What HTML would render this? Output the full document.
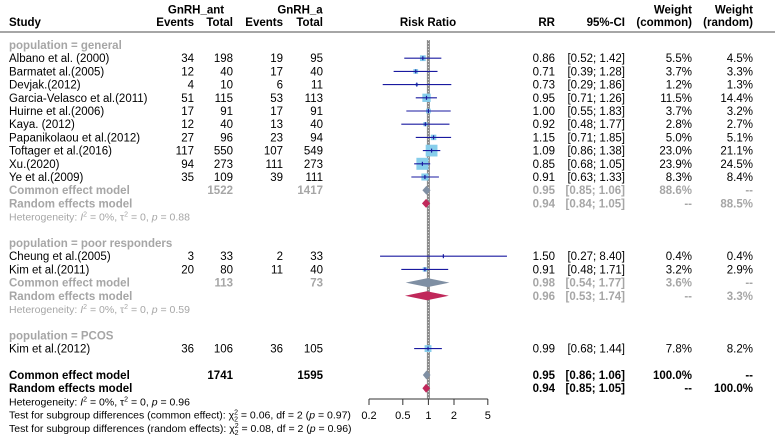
<!DOCTYPE html>
<html><head><meta charset="utf-8"><style>
body{margin:0;background:#fff}
svg{display:block;font-family:"Liberation Sans",Arial,sans-serif}
.b{font-weight:bold}
.g{fill:#a6a6a6}
</style></head><body>
<svg id="c" width="777" height="441" viewBox="0 0 777 441"></svg>
<script>
const studyNames=["Albano et al. (2000)","Barmatet al.(2005)","Devjak.(2012)","Garcia-Velasco et al.(2011)","Huirne et al.(2006)","Kaya. (2012)","Papanikolaou et al.(2012)","Toftager et al.(2016)","Xu.(2020)","Ye et al.(2009)","Cheung et al.(2005)","Kim et al.(2011)","Kim et al.(2012)"];
const studyRows=[1,2,3,4,5,6,7,8,9,10,16,17,23];
const evA=[34,12,4,51,17,12,27,117,94,35,3,20,36];
const totA=[198,40,10,115,91,40,96,550,273,109,33,80,106];
const evB=[19,17,6,53,17,13,23,107,111,39,2,11,36];
const totB=[95,40,11,113,91,40,94,549,273,111,33,40,105];
const rr=[0.86,0.71,0.73,0.95,1.00,0.92,1.15,1.09,0.85,0.91,1.50,0.91,0.99];
const lo=[0.52,0.39,0.29,0.71,0.55,0.48,0.71,0.86,0.68,0.63,0.27,0.48,0.68];
const hi=[1.42,1.28,1.86,1.26,1.83,1.77,1.85,1.38,1.05,1.33,8.40,1.71,1.44];
const wCom=[5.5,3.7,1.2,11.5,3.7,2.8,5.0,23.0,23.9,8.3,0.4,3.2,7.8];
const wRan=[4.5,3.3,1.3,14.4,3.2,2.7,5.1,21.1,24.5,8.4,0.4,2.9,8.2];
const sumRows=[11,12,18,19,25,26];
const sumKind=["common","random","common","random","common","random"];
const sumEst=[0.95,0.94,0.98,0.96,0.95,0.94];
const sumLo=[0.85,0.84,0.54,0.53,0.86,0.85];
const sumHi=[1.06,1.05,1.77,1.74,1.06,1.05];
const sumTotA=["1522","","113","","1741",""];
const sumTotB=["1417","","73","","1595",""];
const sumWC=["88.6%","--","3.6%","--","100.0%","--"];
const sumWR=["--","88.5%","--","3.3%","--","100.0%"];
const ticks=[0.2,0.5,1,2,5];
const tickLabels=["0.2","0.5","1","2","5"];

const svg=document.getElementById('c');
const NS="http://www.w3.org/2000/svg";
const X=v=>428.4+85*Math.log10(v);
const Y=r=>45+r*13.2;
function el(tag,attrs,txt){const e=document.createElementNS(NS,tag);for(const k in attrs)e.setAttribute(k,attrs[k]);if(txt!==undefined)e.textContent=txt;svg.appendChild(e);return e;}
function T(x,y,s,anchor,cls,size){const e=el('text',{x:x,y:y,'text-anchor':anchor||'start','font-size':size||11.5,class:cls||''},s);return e;}
const f2=v=>v.toFixed(2);

let h;
h=T(196,13.5,"GnRH_ant","middle","b");
h=T(300,13.5,"GnRH_a","middle","b");
h=T(9,26,"Study","start","b");
[["Events",194],["Total",233],["Events",283],["Total",323]].forEach(a=>{h=T(a[1],26,a[0],"end","b");});
h=T(428,26,"Risk Ratio","middle","b");
h=T(555,26,"RR","end","b");
h=T(625,26,"95%-CI","end","b");
h=T(692,13.5,"Weight","end","b");
T(692,26,"(common)","end","b");
h=T(753,13.5,"Weight","end","b");
T(753,26,"(random)","end","b");
h=el('line',{x1:0,y1:32,x2:775,y2:32,stroke:'#888','stroke-width':1.5});

h=el('line',{x1:X(1),y1:40,x2:X(1),y2:Y(27)-3,stroke:'#8a8a8a','stroke-width':3});

el('line',{x1:X(1),y1:40,x2:X(1),y2:Y(27)-3,stroke:'#e0e0e0','stroke-width':1,'stroke-dasharray':'1 2'});

[[0,"population = general"],[15,"population = poor responders"],[22,"population = PCOS"]].forEach(a=>{
  h=T(9,Y(a[0])+4,a[1],"start","b g");
});

studyNames.forEach((n,i)=>{
  const y=Y(studyRows[i]);
  h=T(9,y+4,n);
  T(194,y+4,String(evA[i]),"end");T(233,y+4,String(totA[i]),"end");
  T(283,y+4,String(evB[i]),"end");T(323,y+4,String(totB[i]),"end");
  T(555,y+4,f2(rr[i]),"end");
  T(625,y+4,"["+f2(lo[i])+"; "+f2(hi[i])+"]","end");
  T(692,y+4,wCom[i].toFixed(1)+"%","end");T(753,y+4,wRan[i].toFixed(1)+"%","end");
  const s=12*Math.sqrt(wCom[i]/23.9);
  h=el('rect',{x:X(rr[i])-s/2,y:y-s/2,width:s,height:s,fill:'#87ceeb'});
  
  h=el('line',{x1:X(lo[i]),y1:y,x2:X(hi[i]),y2:y,stroke:'#1a1aa0','stroke-width':1.1});
  
  el('line',{x1:X(rr[i]),y1:y-2,x2:X(rr[i]),y2:y+2,stroke:'#1a1aa0','stroke-width':1.2});
});

sumRows.forEach((r,i)=>{
  const y=Y(r);const overall=r>=25;const cls=overall?"b":"b g";
  T(9,y+4,sumKind[i]==="common"?"Common effect model":"Random effects model","start",cls);
  if(sumTotA[i])T(233,y+4,sumTotA[i],"end",cls);
  if(sumTotB[i])T(323,y+4,sumTotB[i],"end",cls);
  T(555,y+4,f2(sumEst[i]),"end",cls);
  T(625,y+4,"["+f2(sumLo[i])+"; "+f2(sumHi[i])+"]","end",cls);
  T(692,y+4,sumWC[i],"end",cls);T(753,y+4,sumWR[i],"end",cls);
  const d=`M${X(sumLo[i])},${y} L${X(sumEst[i])},${y-4.5} L${X(sumHi[i])},${y} L${X(sumEst[i])},${y+4.5} Z`;
  h=el('path',{d:d,fill:sumKind[i]==="common"?'#7f8fa3':'#c0285a'});
  
});

function het(r,p,gray){
  const t=el('text',{x:9,y:Y(r)+4,'font-size':10.5,class:gray?'g':''});
  t.innerHTML='Heterogeneity: <tspan font-style="italic">I</tspan><tspan dy="-4" font-size="7">2</tspan><tspan dy="4"> = 0%, τ</tspan><tspan dy="-4" font-size="7">2</tspan><tspan dy="4"> = 0, </tspan><tspan font-style="italic">p</tspan> = '+p;
  
}
het(13,"0.88",true);het(20,"0.59",true);het(27,"0.96",false);
function test(r,kind,c,p){
  const t=el('text',{x:9,y:Y(r)+4,'font-size':10.5});
  t.innerHTML='Test for subgroup differences ('+kind+'): χ<tspan dy="-4" font-size="7">2</tspan><tspan dx="-4" dy="7" font-size="7">2</tspan><tspan dy="-3"> = '+c+', df = 2 (</tspan><tspan font-style="italic">p</tspan> = '+p+')';
  
}
test(28,"common effect","0.06","0.97");test(29,"random effects","0.08","0.96");

const ay=399;
h=el('line',{x1:X(ticks[0]),y1:ay,x2:X(ticks[ticks.length-1]),y2:ay,stroke:'#333','stroke-width':1});

ticks.forEach((t,i)=>{
  el('line',{x1:X(t),y1:ay,x2:X(t),y2:ay+6,stroke:'#333','stroke-width':1});
  h=T(X(t),ay+20,tickLabels[i],"middle","",11);
  
});
</script>
</body></html>
